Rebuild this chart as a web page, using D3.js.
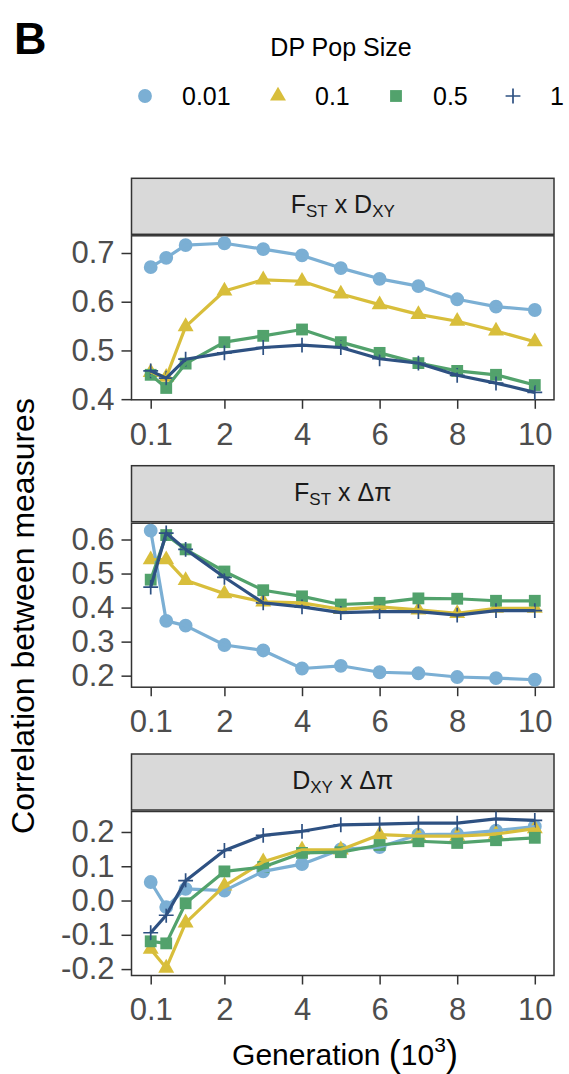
<!DOCTYPE html>
<html>
<head>
<meta charset="utf-8">
<script src="https://cdn.jsdelivr.net/npm/d3@7"></script>
<style>
  body { margin: 0; background: #fff; }
  text { font-family: 'Liberation Sans', Arial, Helvetica, sans-serif; }
</style>
</head>
<body>
<script>
// generations (x 10^3)
const generations = [0.1, 0.5, 1, 2, 3, 4, 5, 6, 7, 8, 9, 10]
const popSizes = ['0.01', '0.1', '0.5', '1']
const colors = ['#7BAFD4', '#D8BE3B', '#52A26C', '#2E5182']
const xTicks = [0.1, 2, 4, 6, 8, 10]

// FST x DXY
const fstDxy001 = [0.671, 0.690, 0.716, 0.720, 0.708, 0.695, 0.669, 0.647, 0.632, 0.605, 0.590, 0.583]
const fstDxy01  = [0.455, 0.445, 0.549, 0.622, 0.645, 0.642, 0.616, 0.594, 0.574, 0.560, 0.540, 0.518]
const fstDxy05  = [0.450, 0.423, 0.473, 0.517, 0.530, 0.543, 0.517, 0.495, 0.474, 0.458, 0.450, 0.429]
const fstDxy1   = [0.458, 0.443, 0.482, 0.495, 0.506, 0.511, 0.506, 0.483, 0.474, 0.449, 0.433, 0.414]

// FST x delta pi
const fstPi001 = [0.626, 0.361, 0.347, 0.290, 0.274, 0.221, 0.229, 0.210, 0.207, 0.196, 0.193, 0.188]
const fstPi01  = [0.541, 0.541, 0.480, 0.441, 0.417, 0.414, 0.395, 0.402, 0.393, 0.383, 0.398, 0.398]
const fstPi05  = [0.482, 0.613, 0.571, 0.506, 0.451, 0.433, 0.409, 0.414, 0.427, 0.426, 0.420, 0.420]
const fstPi1   = [0.460, 0.619, 0.571, 0.489, 0.414, 0.402, 0.385, 0.388, 0.388, 0.378, 0.391, 0.391]

// DXY x delta pi
const dxyPi001 = [0.054, -0.019, 0.034, 0.029, 0.085, 0.106, 0.149, 0.156, 0.192, 0.194, 0.204, 0.216]
const dxyPi01  = [-0.142, -0.197, -0.065, 0.043, 0.113, 0.148, 0.148, 0.192, 0.188, 0.188, 0.194, 0.210]
const dxyPi05  = [-0.119, -0.125, -0.008, 0.085, 0.098, 0.139, 0.141, 0.162, 0.173, 0.168, 0.176, 0.183]
const dxyPi1   = [-0.094, -0.043, 0.058, 0.146, 0.190, 0.202, 0.221, 0.223, 0.226, 0.226, 0.238, 0.234]

const panels = [
  { label: [['F', 0], ['ST', 1], [' x D', 0], ['XY', 1]], series: [fstDxy001, fstDxy01, fstDxy05, fstDxy1], ticks: [0.4, 0.5, 0.6, 0.7] },
  { label: [['F', 0], ['ST', 1], [' x Δπ', 0]], series: [fstPi001, fstPi01, fstPi05, fstPi1], ticks: [0.2, 0.3, 0.4, 0.5, 0.6] },
  { label: [['D', 0], ['XY', 1], [' x Δπ', 0]], series: [dxyPi001, dxyPi01, dxyPi05, dxyPi1], ticks: [-0.2, -0.1, 0.0, 0.1, 0.2] },
]

const W = 569, H = 1074
const plotLeft = 131.5, plotRight = 554
const stripTops = [178.3, 465.7, 754]
const stripH = 56, panelGap = 57.5, panelH = 164
const axisGrey = '#4D4D4D', border = '#333333'
const legendKeyX = [145, 278, 396, 513]

const plusType = {
  draw(ctx, size) {
    const r = Math.sqrt(size) / 2
    ctx.moveTo(-r, 0); ctx.lineTo(r, 0)
    ctx.moveTo(0, -r); ctx.lineTo(0, r)
  }
}
const shapes = [
  { type: d3.symbolCircle, size: 150, fill: true },
  { type: d3.symbolTriangle, size: 110, fill: true },
  { type: d3.symbolSquare, size: 140, fill: true },
  { type: plusType, size: 220, fill: false },
]
const symbolPath = (i) => d3.symbol().type(shapes[i].type).size(shapes[i].size)()

const svg = d3.select('body').append('svg')
  .attr('width', W)
  .attr('height', H)

const x = d3.scaleLinear()
  .domain([0.1 - 0.495, 10 + 0.495])
  .range([plotLeft, plotRight])

const fmt = (v) => d3.format('.1f')(v).replace('−', '-')

panels.forEach((p, pi) => {
  const sTop = stripTops[pi]
  const pTop = sTop + panelGap
  const pBot = pTop + panelH

  const all = p.series.flat()
  const [lo, hi] = d3.extent(all)
  const pad = (hi - lo) * 0.05
  const y = d3.scaleLinear().domain([lo - pad, hi + pad]).range([pBot, pTop])

  // strip
  svg.append('rect')
    .attr('x', plotLeft).attr('y', sTop)
    .attr('width', plotRight - plotLeft).attr('height', stripH)
    .attr('fill', '#D9D9D9').attr('stroke', border).attr('stroke-width', 1.5)

  const st = svg.append('text')
    .attr('x', (plotLeft + plotRight) / 2)
    .attr('y', sTop + 35)
    .attr('text-anchor', 'middle')
    .attr('font-size', 25)
    .attr('fill', '#1A1A1A')
  p.label.forEach(([t, sub]) => {
    const ts = st.append('tspan').text(t)
    if (sub) ts.attr('font-size', 17).attr('dy', 4)
    else if (st.selectAll('tspan').size() > 1) ts.attr('dy', -4)
  })

  // panel
  svg.append('rect')
    .attr('x', plotLeft).attr('y', pTop)
    .attr('width', plotRight - plotLeft).attr('height', panelH)
    .attr('fill', '#fff').attr('stroke', border).attr('stroke-width', 1.5)

  // axes
  const gx = svg.append('g')
    .attr('transform', `translate(0,${pBot})`)
    .call(d3.axisBottom(x).tickValues(xTicks).tickSize(9).tickPadding(8).tickFormat(d3.format('~g')))
  const gy = svg.append('g')
    .attr('transform', `translate(${plotLeft},0)`)
    .call(d3.axisLeft(y).tickValues(p.ticks).tickSize(10).tickPadding(7).tickFormat(fmt))
  ;[gx, gy].forEach((g) => {
    g.select('.domain').remove()
    g.selectAll('line').attr('stroke', border).attr('stroke-width', 1.5)
    g.selectAll('text').attr('font-size', 31).attr('fill', axisGrey)
      .style('font-family', "'Liberation Sans', Arial, sans-serif")
  })
  gx.selectAll('text').attr('dy', '0.9em')

  // points then lines
  const line = d3.line().x((d, i) => x(generations[i])).y((d) => y(d))
  p.series.forEach((vals, si) => {
    svg.append('g').selectAll('path')
      .data(vals)
      .join('path')
        .attr('transform', (d, i) => `translate(${x(generations[i])},${y(d)})`)
        .attr('d', symbolPath(si))
        .attr('fill', shapes[si].fill ? colors[si] : 'none')
        .attr('stroke', shapes[si].fill ? 'none' : colors[si])
        .attr('stroke-width', 1.7)
  })
  p.series.forEach((vals, si) => {
    svg.append('path')
      .datum(vals)
      .attr('fill', 'none')
      .attr('stroke', colors[si])
      .attr('stroke-width', 3.2)
      .attr('stroke-linejoin', 'round')
      .attr('d', line)
  })
})

// y axis title
svg.append('text')
  .attr('transform', 'translate(34,616) rotate(-90)')
  .attr('text-anchor', 'middle')
  .attr('font-size', 32)
  .attr('fill', '#000')
  .text('Correlation between measures')

// x axis title
const xt = svg.append('text')
  .attr('x', 345)
  .attr('y', 1065)
  .attr('text-anchor', 'middle')
  .attr('font-size', 30)
  .attr('fill', '#000')
xt.append('tspan').text('Generation ')
xt.append('tspan').attr('font-size', 36).attr('dy', 1).text('(')
xt.append('tspan').attr('dy', -1).text('10')
xt.append('tspan').attr('font-size', 21).attr('dy', -13).text('3')
xt.append('tspan').attr('font-size', 36).attr('dy', 14).text(')')

// panel tag
svg.append('text')
  .attr('x', 14).attr('y', 54)
  .attr('font-size', 45).attr('font-weight', 'bold')
  .text('B')

// legend
svg.append('text')
  .attr('x', 341).attr('y', 56)
  .attr('text-anchor', 'middle')
  .attr('font-size', 25)
  .text('DP Pop Size')

popSizes.forEach((s, si) => {
  const kx = legendKeyX[si]
  svg.append('path')
    .attr('transform', `translate(${kx},96)`)
    .attr('d', symbolPath(si))
    .attr('fill', shapes[si].fill ? colors[si] : 'none')
    .attr('stroke', shapes[si].fill ? 'none' : colors[si])
    .attr('stroke-width', 1.7)
  svg.append('text')
    .attr('x', kx + 37).attr('y', 105)
    .attr('font-size', 25)
    .text(s)
})
</script>
</body>
</html>
